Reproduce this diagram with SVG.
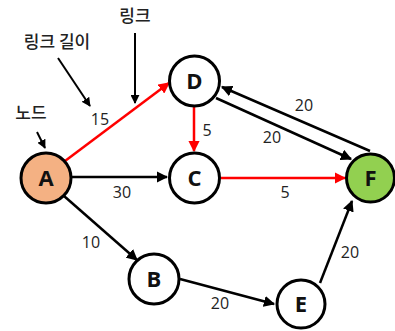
<svg xmlns="http://www.w3.org/2000/svg" width="395" height="331" viewBox="0 0 395 331">
<style>
.n{fill:#fff;stroke:#000;stroke-width:3}
.nt{font-family:"Open Sans","Liberation Sans",sans-serif;font-weight:bold;font-size:22px;text-anchor:middle;fill:#111}
.lb{font-family:"Open Sans","Liberation Sans",sans-serif;font-size:16px;text-anchor:middle;fill:#222}
.kr{font-family:"Noto Sans CJK KR","Noto Sans",sans-serif;font-size:17px;font-weight:500;text-anchor:middle;fill:#222}
.e{stroke:#000;stroke-width:2.5;fill:none;marker-end:url(#ab)}
.r{stroke:#f00;stroke-width:2.5;fill:none;marker-end:url(#ar)}
.c{stroke:#000;stroke-width:2;fill:none;marker-end:url(#ab)}
</style>
<defs>
<marker id="ab" viewBox="0 0 10 10" refX="9" refY="5" markerWidth="4.5" markerHeight="4.5" orient="auto" markerUnits="strokeWidth"><path d="M0,0 L10,5 L0,10 Z" fill="#000"/></marker>
<marker id="ar" viewBox="0 0 10 10" refX="9" refY="5" markerWidth="4.5" markerHeight="4.5" orient="auto" markerUnits="strokeWidth"><path d="M0,0 L10,5 L0,10 Z" fill="#f00"/></marker>
</defs>
<g id="connectors">
<line class="r" x1="65" y1="161" x2="169" y2="83"/>
<line class="r" x1="194" y1="107" x2="194" y2="151"/>
<line class="r" x1="221" y1="178" x2="345" y2="178"/>
<line class="e" x1="71" y1="177" x2="167" y2="177"/>
<line class="e" x1="64" y1="196" x2="137" y2="260"/>
<line class="e" x1="180" y1="279" x2="274" y2="304"/>
<line class="e" x1="320" y1="283" x2="352" y2="201"/>
<line class="e" x1="216" y1="98" x2="351" y2="159"/>
<line class="e" x1="370" y1="151" x2="222" y2="87"/>
<line class="c" x1="135" y1="33" x2="135" y2="103"/>
<line class="c" x1="58" y1="58" x2="90" y2="106"/>
<line class="c" x1="37" y1="132" x2="45" y2="148"/>
</g>
<g id="labels">
<text class="kr" x="135" y="22">링크</text>
<text class="kr" x="57" y="48">링크 길이</text>
<text class="kr" x="31" y="119">노드</text>
<text class="lb" x="100" y="125">15</text>
<text class="lb" x="207" y="136">5</text>
<text class="lb" x="285" y="198">5</text>
<text class="lb" x="122" y="198">30</text>
<text class="lb" x="91" y="248">10</text>
<text class="lb" x="220" y="309">20</text>
<text class="lb" x="350" y="258">20</text>
<text class="lb" x="272" y="143">20</text>
<text class="lb" x="304" y="111">20</text>
</g>
<g id="A"><circle cx="46" cy="178" r="25" class="n" style="fill:#f4b183"/><text class="nt" x="46" y="186">A</text></g>
<g id="D"><circle cx="194.5" cy="81" r="25" class="n"/><text class="nt" x="194.5" y="89">D</text></g>
<g id="C"><circle cx="194.5" cy="178" r="25" class="n"/><text class="nt" x="194.5" y="186">C</text></g>
<g id="F"><circle cx="370.5" cy="178" r="24" class="n" style="fill:#92d050"/><text class="nt" x="370.5" y="186">F</text></g>
<g id="B"><circle cx="154" cy="279" r="25" class="n"/><text class="nt" x="154" y="287">B</text></g>
<g id="E"><circle cx="301" cy="304" r="24" class="n"/><text class="nt" x="301" y="312">E</text></g>
</svg>
